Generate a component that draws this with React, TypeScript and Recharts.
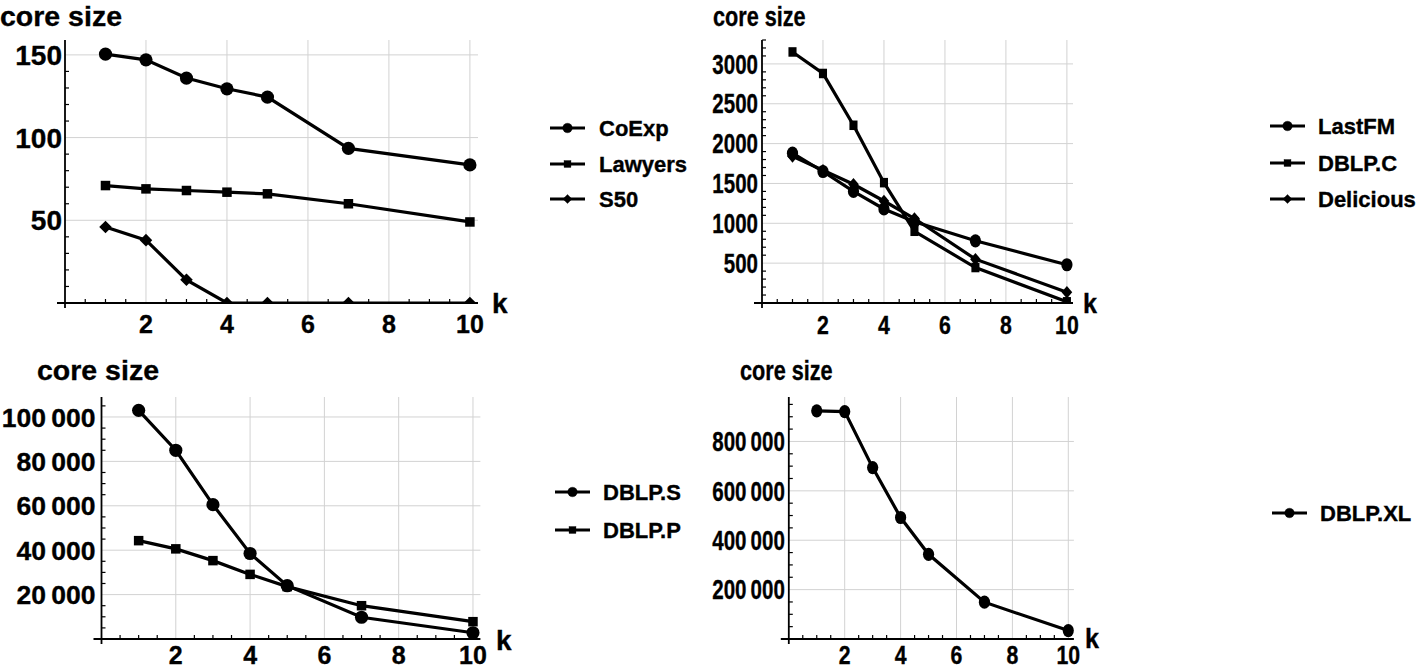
import React from "react";
import { LineChart, Line, XAxis, YAxis, ReferenceLine } from "recharts";

// k on the x axis
const kValues = [1, 2, 3, 4, 5, 7, 10];

// top left
const coExp = [150.5, 147, 136, 129.5, 124.5, 93.5, 83.5];
const lawyers = [71, 69, 68, 67, 66, 60, 49];
const s50 = [46, 38, 14, 0, 0, 0, 0];

// top right
const lastFM = [1880, 1650, 1400, 1180, 1020, 780, 480];
const dblpC = [3150, 2880, 2230, 1510, 900, 445, 15];
const delicious = [1840, 1665, 1490, 1280, 1060, 550, 135];

// bottom left
const dblpS = [103000, 85000, 60500, 38500, 24000, 9800, 2800];
const dblpP = [44300, 40600, 35300, 29100, 23600, 15000, 7800];

// bottom right
const dblpXL = [924000, 921000, 694000, 492000, 343000, 149000, 34000];

const xMajorTicks = [2, 4, 6, 8, 10];
const yMajorTL = [50, 100, 150];
const yMajorTR = [500, 1000, 1500, 2000, 2500, 3000];
const yMajorBL = [20000, 40000, 60000, 80000, 100000];
const yMajorBR = [200000, 400000, 600000, 800000];

const TITLE = "core size";
const X_LABEL = "k";

const FONT = '"Liberation Sans", Arial, Helvetica, sans-serif';
const X_MAX = 10.2;
const PAD_LEFT = 8; // x axis sticks out left of the y axis
const PAD_BOTTOM = 5; // y axis sticks out below the x axis
const GRID = "#d2d2d2";
const TEXT_STROKE = 0.35;

type Shape = "circle" | "square" | "diamond";

interface Series {
  name: string;
  values: number[];
  shape: Shape;
}

interface PanelConfig {
  left: number;
  top: number;
  width: number;
  height: number;
  margin: { top: number; right: number; left: number; bottom: number };
  yAxisWidth: number;
  xAxisHeight: number;
  yMax: number;
  yMajor: number[];
  yMinorStep: number;
  series: Series[];
  sx: number; // horizontal squeeze of the text on the right panels
  yFont: number;
  yGap: number;
  xLabelDy: number;
  title: [number, number];
  kPos: [number, number];
  legend: { x1: number; x2: number; tx: number; ys: number[] };
}

const panels: PanelConfig[] = [
  {
    left: 0,
    top: 0,
    width: 700,
    height: 340,
    margin: { top: 40, right: 222, left: 0, bottom: 0 },
    yAxisWidth: 57,
    xAxisHeight: 32,
    yMax: 159,
    yMajor: yMajorTL,
    yMinorStep: 10,
    series: [
      { name: "CoExp", values: coExp, shape: "circle" },
      { name: "Lawyers", values: lawyers, shape: "square" },
      { name: "S50", values: s50, shape: "diamond" },
    ],
    sx: 1,
    yFont: 28,
    yGap: 3,
    xLabelDy: 30,
    title: [0, 26],
    kPos: [492, 313],
    legend: { x1: 550, x2: 585, tx: 599, ys: [128, 164, 199] },
  },
  {
    left: 700,
    top: 0,
    width: 718,
    height: 340,
    margin: { top: 40, right: 345, left: 0, bottom: 0 },
    yAxisWidth: 54,
    xAxisHeight: 32,
    yMax: 3300,
    yMajor: yMajorTR,
    yMinorStep: 100,
    series: [
      { name: "LastFM", values: lastFM, shape: "circle" },
      { name: "DBLP.C", values: dblpC, shape: "square" },
      { name: "Delicious", values: delicious, shape: "diamond" },
    ],
    sx: 0.76,
    yFont: 27,
    yGap: 4,
    xLabelDy: 31,
    title: [713, 26],
    kPos: [1083, 313],
    legend: { x1: 1270, x2: 1305, tx: 1318, ys: [126, 163, 199] },
  },
  {
    left: 0,
    top: 340,
    width: 700,
    height: 330,
    margin: { top: 57, right: 219.6, left: 0, bottom: 0 },
    yAxisWidth: 93.5,
    xAxisHeight: 26,
    yMax: 109000,
    yMajor: yMajorBL,
    yMinorStep: 5000,
    series: [
      { name: "DBLP.S", values: dblpS, shape: "circle" },
      { name: "DBLP.P", values: dblpP, shape: "square" },
    ],
    sx: 1,
    yFont: 26.5,
    yGap: 6,
    xLabelDy: 25,
    title: [37, 380],
    kPos: [496, 650],
    legend: { x1: 555, x2: 590, tx: 603, ys: [492, 530] },
  },
  {
    left: 700,
    top: 340,
    width: 718,
    height: 330,
    margin: { top: 57, right: 344.1, left: 0, bottom: 0 },
    yAxisWidth: 80.8,
    xAxisHeight: 26,
    yMax: 980000,
    yMajor: yMajorBR,
    yMinorStep: 50000,
    series: [{ name: "DBLP.XL", values: dblpXL, shape: "circle" }],
    sx: 0.76,
    yFont: 27,
    yGap: 4,
    xLabelDy: 25,
    title: [740, 379.5],
    kPos: [1085, 648],
    legend: { x1: 1272, x2: 1307, tx: 1320, ys: [513] },
  },
];

function stepTicks(step: number, max: number): number[] {
  const out: number[] = [];
  for (let i = 1; i * step <= max + 1e-9; i++) out.push(Math.round(i * step * 1000) / 1000);
  return out;
}

function fmt(v: number): string {
  const s = String(v);
  return v >= 10000 ? s.replace(/\B(?=(\d{3})+(?!\d))/g, "\u2009") : s;
}

function Marker({
  shape,
  cx,
  cy,
  r,
  sx,
}: {
  shape: Shape;
  cx: number;
  cy: number;
  r: number;
  sx: number;
}) {
  if (shape === "circle") {
    return <ellipse cx={cx} cy={cy} rx={r * sx} ry={r} fill="#000" />;
  }
  if (shape === "square") {
    const h = r * 0.72;
    return (
      <rect x={cx - h * sx} y={cy - h} width={2 * h * sx} height={2 * h} fill="#000" />
    );
  }
  const h = r * 0.95;
  return (
    <polygon
      points={`${cx},${cy - h} ${cx + h * sx},${cy} ${cx},${cy + h} ${cx - h * sx},${cy}`}
      fill="#000"
    />
  );
}

function Panel({ p }: { p: PanelConfig }) {
  const data = kValues.map((k, i) => {
    const row: Record<string, number> = { k };
    p.series.forEach((s) => {
      row[s.name] = s.values[i];
    });
    return row;
  });
  const xTicks = stepTicks(0.5, 10);
  const yTicks = stepTicks(p.yMinorStep, p.yMax);
  const markerSx = p.sx < 1 ? 0.85 : 1;

  const renderXTick = (props: any) => {
    const { x, y, payload } = props;
    const v = payload.value as number;
    const oy = y - PAD_BOTTOM;
    if (xMajorTicks.includes(v)) {
      return (
        <text
          key={`xt-${v}`}
          transform={`translate(${x},${oy + p.xLabelDy}) scale(${p.sx < 1 ? 0.85 : 1},1)`}
          textAnchor="middle"
          fontSize={25}
          fontWeight="bold"
          fontFamily={FONT}
          fill="#000"
          stroke="#000"
          strokeWidth={TEXT_STROKE}
        >
          {v}
        </text>
      );
    }
    return (
      <line key={`xt-${v}`} x1={x} x2={x} y1={oy} y2={oy - 4} stroke="#000" strokeWidth={1.2} />
    );
  };

  const renderYTick = (props: any) => {
    const { x, y, payload } = props;
    const v = payload.value as number;
    const ox = x + PAD_LEFT;
    if (p.yMajor.includes(v)) {
      return (
        <text
          key={`yt-${v}`}
          transform={`translate(${ox - p.yGap},${y + p.yFont * 0.36}) scale(${p.sx},1)`}
          textAnchor="end"
          fontSize={p.yFont}
          fontWeight="bold"
          fontFamily={FONT}
          fill="#000"
          stroke="#000"
          strokeWidth={TEXT_STROKE}
        >
          {fmt(v)}
        </text>
      );
    }
    return (
      <line key={`yt-${v}`} x1={ox} x2={ox + 4} y1={y} y2={y} stroke="#000" strokeWidth={1.2} />
    );
  };

  return (
    <div style={{ position: "absolute", left: p.left, top: p.top }}>
      <LineChart width={p.width} height={p.height} data={data} margin={p.margin}>
        <XAxis
          type="number"
          dataKey="k"
          domain={[0, X_MAX]}
          allowDataOverflow
          ticks={xTicks}
          interval={0}
          tickSize={0}
          tickMargin={0}
          axisLine={false}
          tickLine={false}
          tick={renderXTick}
          padding={{ left: PAD_LEFT, right: 0 }}
          height={p.xAxisHeight}
        />
        <YAxis
          type="number"
          domain={[0, p.yMax]}
          allowDataOverflow
          ticks={yTicks}
          interval={0}
          tickSize={0}
          tickMargin={0}
          axisLine={false}
          tickLine={false}
          tick={renderYTick}
          padding={{ top: 0, bottom: PAD_BOTTOM }}
          width={p.yAxisWidth}
        />
        {xMajorTicks.map((v) => (
          <ReferenceLine
            key={`gx-${v}`}
            segment={[
              { x: v, y: 0 },
              { x: v, y: p.yMax },
            ]}
            stroke={GRID}
            strokeWidth={1}
          />
        ))}
        {p.yMajor.map((v) => (
          <ReferenceLine
            key={`gy-${v}`}
            segment={[
              { x: 0, y: v },
              { x: X_MAX, y: v },
            ]}
            stroke={GRID}
            strokeWidth={1}
          />
        ))}
        <ReferenceLine x={0} stroke="#000" strokeWidth={1.8} />
        <ReferenceLine y={0} stroke="#000" strokeWidth={1.8} />
        {p.series.map((s) => (
          <Line
            key={s.name}
            type="linear"
            dataKey={s.name}
            stroke="#000"
            strokeWidth={3.2}
            isAnimationActive={false}
            dot={(d: any) => (
              <Marker
                key={`${s.name}-${d.index}`}
                shape={s.shape}
                cx={d.cx}
                cy={d.cy}
                r={6.6}
                sx={markerSx}
              />
            )}
            activeDot={false}
          />
        ))}
      </LineChart>
    </div>
  );
}

function Overlay() {
  return (
    <svg
      width={1418}
      height={670}
      style={{ position: "absolute", left: 0, top: 0, pointerEvents: "none" }}
    >
      {panels.map((p, pi) => (
        <g
          key={pi}
          fontFamily={FONT}
          fontWeight="bold"
          fill="#000"
          stroke="#000"
          strokeWidth={TEXT_STROKE}
        >
          <text transform={`translate(${p.title[0]},${p.title[1]}) scale(${p.sx},1)`} fontSize={28.5}>
            {TITLE}
          </text>
          <text transform={`translate(${p.kPos[0]},${p.kPos[1]}) scale(${p.sx < 1 ? 0.9 : 1},1)`} fontSize={28}>
            {X_LABEL}
          </text>
          {p.series.map((s, i) => {
            const y = p.legend.ys[i];
            return (
              <g key={s.name}>
                <line x1={p.legend.x1} x2={p.legend.x2} y1={y} y2={y} stroke="#000" strokeWidth={3} />
                <Marker shape={s.shape} cx={(p.legend.x1 + p.legend.x2) / 2} cy={y} r={4.8} sx={1} />
                <text x={p.legend.tx} y={y + 7.8} fontSize={22}>
                  {s.name}
                </text>
              </g>
            );
          })}
        </g>
      ))}
    </svg>
  );
}

export default function App() {
  return (
    <div
      style={{
        position: "absolute",
        left: 0,
        top: 0,
        width: 1418,
        height: 670,
        overflow: "hidden",
        background: "#fff",
      }}
    >
      {panels.map((p, i) => (
        <Panel key={i} p={p} />
      ))}
      <Overlay />
    </div>
  );
}
